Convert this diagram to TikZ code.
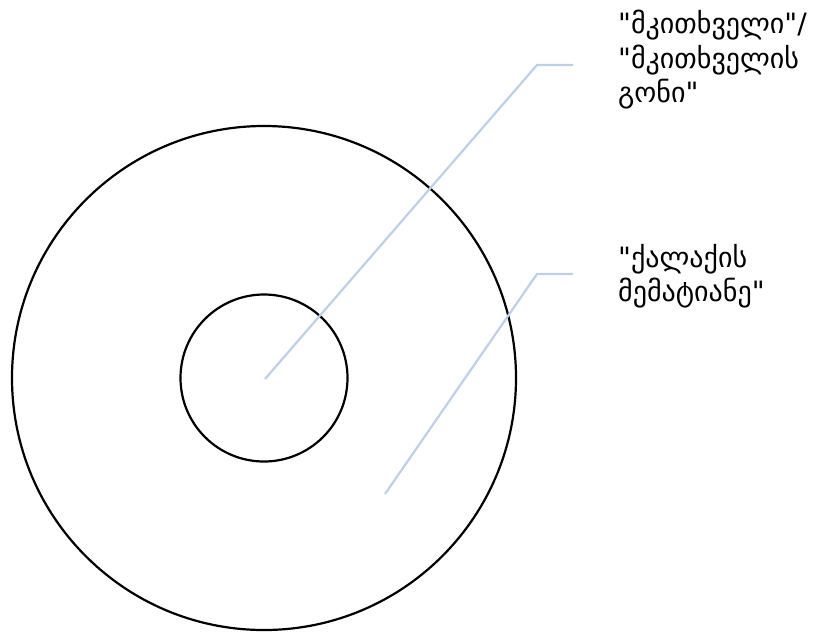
\documentclass[tikz,border=0pt]{standalone}
\usepackage{fontspec}
\setmainfont{DejaVu Sans}
\begin{document}
\begin{tikzpicture}[x=1pt,y=-1pt,
  ring/.style={draw=black,line width=2.2pt},
  leader/.style={draw={rgb,255:red,190;green,208;blue,232},line width=2.2pt},
  lbl/.style={anchor=base west,inner sep=0pt,font=\fontsize{28}{35}\selectfont}]
\useasboundingbox (0,0) rectangle (824,633);
\node[ring,circle,minimum size=504pt,inner sep=0pt] (outer) at (264,378) {};
\node[ring,circle,minimum size=167pt,inner sep=0pt] (inner) at (264,378) {};
\coordinate (p1) at (265,379);
\coordinate (k1) at (537,65);
\coordinate (e1) at (573,65);
\coordinate (p2) at (385,494);
\coordinate (k2) at (537,274);
\coordinate (e2) at (573,274);
\draw[leader] (p1) -- (k1) -- (e1);
\draw[leader] (p2) -- (k2) -- (e2);
\node[lbl] (t1) at (618,33) {\textquotedbl მკითხველი\textquotedbl/};
\node[lbl] (t2) at (618,68) {\textquotedbl მკითხველის};
\node[lbl] (t3) at (618,102) {გონი\textquotedbl};
\node[lbl] (t4) at (618,267) {\textquotedbl ქალაქის};
\node[lbl] (t5) at (618,301) {მემატიანე\textquotedbl};
\end{tikzpicture}
\end{document}
